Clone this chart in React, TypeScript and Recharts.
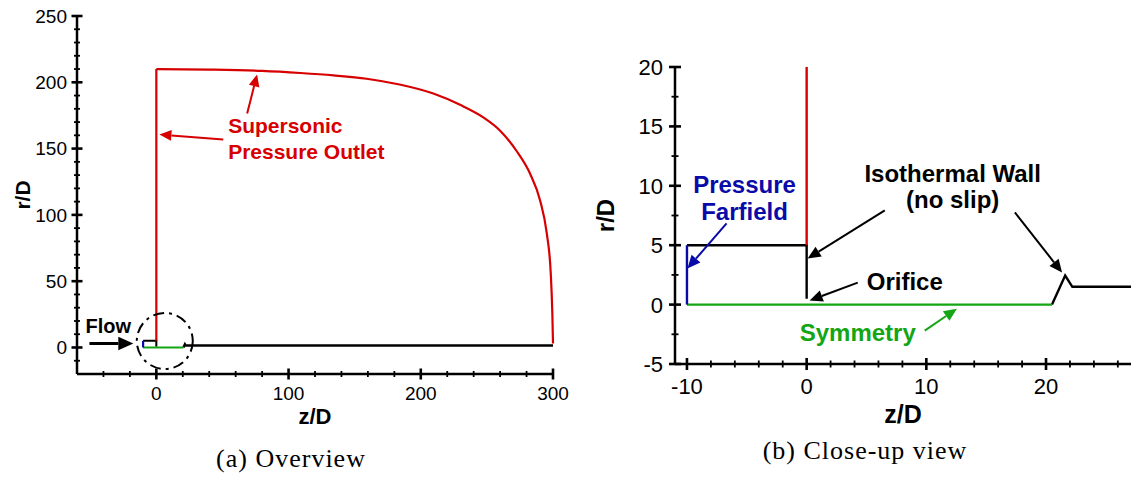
import { LineChart, Line, XAxis, YAxis, ReferenceLine, ReferenceDot } from 'recharts';

const RED = '#d70000';
const BLUE = '#0a0aa8';
const GREEN = '#14a514';
const SANS = '"Liberation Sans", Arial, sans-serif';
const SERIF = '"Liberation Serif", "Times New Roman", serif';

// nozzle geometry (z/D, r/D), shared by both views
const farfield = [{ z: -10, r: 0 }, { z: -10, r: 5 }];
const symmetry = [{ z: -10, r: 0 }, { z: 20.5, r: 0 }];
const inletWall = [{ z: -10, r: 5 }, { z: 0, r: 5 }, { z: 0, r: 0.5 }];
const nozzleWall = [{ z: 20.5, r: 0 }, { z: 21.6, r: 2.45 }, { z: 22.2, r: 1.5 }, { z: 27.1, r: 1.5 }];
const outerWall = [{ z: 20.5, r: 0 }, { z: 21.6, r: 2.45 }, { z: 22.2, r: 1.5 }, { z: 300, r: 1.5 }];

// outlet boundary
const outletFace = [{ z: 0, r: 5 }, { z: 0, r: 210 }];
const outletArc = [
  { z: 0, r: 210 }, { z: 40, r: 209.6 }, { z: 80, r: 208.6 }, { z: 109, r: 207 },
  { z: 134, r: 205.2 }, { z: 159, r: 202.7 }, { z: 184, r: 198.3 }, { z: 209.5, r: 191.5 },
  { z: 229.7, r: 183 }, { z: 247.3, r: 173.5 }, { z: 260, r: 163.5 }, { z: 272.6, r: 148 },
  { z: 282.7, r: 131 }, { z: 290.2, r: 111 }, { z: 295.3, r: 86 }, { z: 298.3, r: 56 },
  { z: 299.5, r: 25.4 }, { z: 300, r: 3 },
];
const outletClose = [{ z: 0, r: 5 }, { z: 0, r: 20 }];

// ticks
const overviewZTicks = [-40, -20, 0, 20, 40, 60, 80, 100, 120, 140, 160, 180, 200, 220, 240, 260, 280, 300];
const overviewRTicks = [-10, 0, 10, 20, 30, 40, 50, 60, 70, 80, 90, 100, 110, 120, 130, 140, 150, 160, 170, 180, 190, 200, 210, 220, 230, 240, 250];
const closeZTicks = [-10, -8, -6, -4, -2, 0, 2, 4, 6, 8, 10, 12, 14, 16, 18, 20, 22, 24, 26];
const closeRTicks = [-5, -2.5, 0, 2.5, 5, 7.5, 10, 12.5, 15, 17.5, 20];

// annotations
const overviewNotes = [
  { text: 'Supersonic', z: 54.3, r: 161.4, color: RED, anchor: 'start' },
  { text: 'Pressure Outlet', z: 54.3, r: 142.5, color: RED, anchor: 'start' },
  { text: 'Flow', z: -53.6, r: 10.6, color: '#000', anchor: 'start' },
];
const overviewArrows = [
  { from: [68.7, 176.5], to: [76.2, 205.9], color: RED },
  { from: [50.6, 156.9], to: [2.3, 160.6], color: RED },
  { from: [-50.6, 3], to: [-17.4, 3], color: '#000' },
];
const closeNotes = [
  { text: 'Pressure', z: -5.19, r: 9.36, color: BLUE, anchor: 'middle' },
  { text: 'Farfield', z: -5.19, r: 7.08, color: BLUE, anchor: 'middle' },
  { text: 'Isothermal Wall', z: 12.2, r: 10.35, color: '#000', anchor: 'middle' },
  { text: '(no slip)', z: 12.2, r: 8.1, color: '#000', anchor: 'middle' },
  { text: 'Orifice', z: 5.02, r: 1.26, color: '#000', anchor: 'start' },
  { text: 'Symmetry', z: 4.27, r: -3.04, color: GREEN, anchor: 'middle' },
];
const closeArrows = [
  { from: [-6.69, 6.83], to: [-9.96, 3.04], color: BLUE },
  { from: [6.53, 7.93], to: [0.08, 3.88], color: '#000' },
  { from: [17.4, 7.76], to: [21.34, 2.7], color: '#000' },
  { from: [4.27, 1.85], to: [0.25, 0.34], color: '#000' },
  { from: [9.87, -2.19], to: [12.55, -0.34], color: GREEN },
];

const isMajor = (v: number, step: number) => Math.abs(v / step - Math.round(v / step)) < 1e-6;

// labels only on the major ticks
const yLabel = (step: number, fs: number, gap: number) => (p: any) => {
  const v = p.payload.value;
  if (!isMajor(v, step)) return <g />;
  return (
    <text x={Number(p.x) - gap} y={Number(p.y)} dy="0.36em" textAnchor="end" fontSize={fs} fontFamily={SANS} fill="#000">
      {v}
    </text>
  );
};

const xLabel = (step: number, fs: number, gap: number) => (p: any) => {
  const v = p.payload.value;
  if (!isMajor(v, step)) return <g />;
  return (
    <text x={Number(p.x)} y={Number(p.y) + gap} textAnchor="middle" fontSize={fs} fontFamily={SANS} fill="#000">
      {v}
    </text>
  );
};

// tick marks crossing the axis line, drawn at the end of a reference line
const yMark = (len: number) => (p: any) => {
  if (p.x1 == null) return <g />;
  const x = Math.min(p.x1, p.x2);
  return <path d={`M${x - len},${p.y1}H${x + len}`} stroke="#000" strokeWidth={len > 4 ? 2.6 : 1.8} fill="none" />;
};

const xMark = (len: number) => (p: any) => {
  if (p.y1 == null) return <g />;
  const y = Math.max(p.y1, p.y2);
  return <path d={`M${p.x1},${y - len}V${y + len}`} stroke="#000" strokeWidth={len > 4 ? 2.6 : 1.8} fill="none" />;
};

const arrowShape = (color: string, w: number, head: number) => (p: any) => {
  const { x1, y1, x2, y2 } = p;
  if (x1 == null || x2 == null) return <g />;
  const dx = x2 - x1;
  const dy = y2 - y1;
  const len = Math.hypot(dx, dy) || 1;
  const ux = dx / len;
  const uy = dy / len;
  const bx = x2 - ux * head;
  const by = y2 - uy * head;
  const px = -uy * head * 0.45;
  const py = ux * head * 0.45;
  return (
    <g>
      <line x1={x1} y1={y1} x2={bx} y2={by} stroke={color} strokeWidth={w} />
      <polygon points={`${x2},${y2} ${bx + px},${by + py} ${bx - px},${by - py}`} fill={color} />
    </g>
  );
};

const noteShape = (n: any, fs: number) => (p: any) => (
  <text x={p.cx} y={p.cy} textAnchor={n.anchor} fontSize={fs} fontWeight="bold" fontFamily={SANS} fill={n.color}>
    {n.text}
  </text>
);

const axisStyle = { stroke: '#000', strokeWidth: 2.5 };

function Overview() {
  return (
    <LineChart width={580} height={477} margin={{ top: 16, right: 27, bottom: 43, left: 0 }}>
      <XAxis
        type="number"
        dataKey="z"
        domain={[-60, 300]}
        ticks={overviewZTicks}
        interval={0}
        tickSize={0}
        tickMargin={0}
        tickLine={false}
        axisLine={axisStyle}
        tick={xLabel(100, 19, 26)}
        height={60}
        label={{
          content: ({ viewBox }: any) => (
            <g>
              <text x={viewBox.x + viewBox.width / 2} y={viewBox.y + 50} textAnchor="middle" fontSize={22} fontWeight="bold" fontFamily={SANS}>
                z/D
              </text>
              <text x={291} y={467} textAnchor="middle" fontSize={26} letterSpacing={1} fontFamily={SERIF}>
                (a) Overview
              </text>
            </g>
          ),
        }}
      />
      <YAxis
        type="number"
        domain={[-20, 250]}
        ticks={overviewRTicks}
        interval={0}
        tickSize={0}
        tickMargin={0}
        tickLine={false}
        axisLine={axisStyle}
        tick={yLabel(50, 19, 10)}
        width={77}
        label={{
          content: ({ viewBox }: any) => {
            const cx = viewBox.x + 22;
            const cy = viewBox.y + viewBox.height / 2;
            return (
              <text x={cx} y={cy} dy="0.36em" transform={`rotate(-90 ${cx} ${cy})`} textAnchor="middle" fontSize={21} fontWeight="bold" fontFamily={SANS}>
                r/D
              </text>
            );
          },
        }}
      />
      {overviewZTicks.map((v) => (
        <ReferenceLine key={'zt' + v} x={v} shape={xMark(isMajor(v, 100) ? 5.5 : 3)} />
      ))}
      {overviewRTicks.map((v) => (
        <ReferenceLine key={'rt' + v} y={v} shape={yMark(isMajor(v, 50) ? 5.5 : 3)} />
      ))}
      <Line data={outerWall} dataKey="r" stroke="#000" strokeWidth={2.4} dot={false} isAnimationActive={false} />
      <Line data={inletWall} dataKey="r" stroke="#000" strokeWidth={2} dot={false} isAnimationActive={false} />
      <Line data={symmetry} dataKey="r" stroke={GREEN} strokeWidth={2.2} dot={false} isAnimationActive={false} />
      <Line data={farfield} dataKey="r" stroke={BLUE} strokeWidth={2.2} dot={false} isAnimationActive={false} />
      <Line data={outletFace} dataKey="r" stroke={RED} strokeWidth={2.2} dot={false} isAnimationActive={false} />
      <Line data={outletArc} dataKey="r" type="monotoneX" stroke={RED} strokeWidth={2.2} dot={false} isAnimationActive={false} />
      <ReferenceDot x={6.4} y={4.9} r={28} fill="none" stroke="#000" strokeWidth={2} strokeDasharray="11 5 3 5" />
      {overviewArrows.map((a, i) => (
        <ReferenceLine
          key={'a' + i}
          segment={[{ x: a.from[0], y: a.from[1] }, { x: a.to[0], y: a.to[1] }]}
          shape={arrowShape(a.color, i === 2 ? 3 : 2, i === 2 ? 15 : 12)}
        />
      ))}
      {overviewNotes.map((n, i) => (
        <ReferenceDot key={'n' + i} x={n.z} y={n.r} r={0} shape={noteShape(n, i === 2 ? 20 : 21)} />
      ))}
    </LineChart>
  );
}

function CloseUp() {
  return (
    <LineChart width={551} height={477} margin={{ top: 67, right: 0, bottom: 43, left: 0 }}>
      <XAxis
        type="number"
        dataKey="z"
        domain={[-11, 27.1]}
        allowDataOverflow
        ticks={closeZTicks}
        interval={0}
        tickSize={0}
        tickMargin={0}
        tickLine={false}
        axisLine={axisStyle}
        tick={xLabel(10, 22, 30)}
        height={70}
        label={{
          content: ({ viewBox }: any) => (
            <g>
              <text x={viewBox.x + viewBox.width / 2} y={viewBox.y + 59} textAnchor="middle" fontSize={25} fontWeight="bold" fontFamily={SANS}>
                z/D
              </text>
              <text x={285} y={459} textAnchor="middle" fontSize={26} letterSpacing={1} fontFamily={SERIF}>
                (b) Close-up view
              </text>
            </g>
          ),
        }}
      />
      <YAxis
        type="number"
        domain={[-5, 20]}
        ticks={closeRTicks}
        interval={0}
        tickSize={0}
        tickMargin={0}
        tickLine={false}
        axisLine={axisStyle}
        tick={yLabel(5, 22, 12)}
        width={95}
        label={{
          content: ({ viewBox }: any) => {
            const cx = viewBox.x + 25;
            const cy = viewBox.y + viewBox.height / 2;
            return (
              <text x={cx} y={cy} dy="0.36em" transform={`rotate(-90 ${cx} ${cy})`} textAnchor="middle" fontSize={24} fontWeight="bold" fontFamily={SANS}>
                r/D
              </text>
            );
          },
        }}
      />
      {closeZTicks.map((v) => (
        <ReferenceLine key={'zt' + v} x={v} shape={xMark(isMajor(v, 10) ? 6 : 3.5)} />
      ))}
      {closeRTicks.map((v) => (
        <ReferenceLine key={'rt' + v} y={v} shape={yMark(isMajor(v, 5) ? 6 : 3.5)} />
      ))}
      <Line data={nozzleWall} dataKey="r" stroke="#000" strokeWidth={2.4} dot={false} isAnimationActive={false} />
      <Line data={inletWall} dataKey="r" stroke="#000" strokeWidth={2.4} dot={false} isAnimationActive={false} />
      <Line data={symmetry} dataKey="r" stroke={GREEN} strokeWidth={2.4} dot={false} isAnimationActive={false} />
      <Line data={farfield} dataKey="r" stroke={BLUE} strokeWidth={2.4} dot={false} isAnimationActive={false} />
      <Line data={outletClose} dataKey="r" stroke={RED} strokeWidth={2.4} dot={false} isAnimationActive={false} />
      {closeArrows.map((a, i) => (
        <ReferenceLine
          key={'a' + i}
          segment={[{ x: a.from[0], y: a.from[1] }, { x: a.to[0], y: a.to[1] }]}
          shape={arrowShape(a.color, 2, 13)}
        />
      ))}
      {closeNotes.map((n, i) => (
        <ReferenceDot key={'n' + i} x={n.z} y={n.r} r={0} shape={noteShape(n, 24)} />
      ))}
    </LineChart>
  );
}

export default function App() {
  return (
    <div style={{ position: 'absolute', left: 0, top: 0, width: 1131, height: 477, background: '#fff', overflow: 'hidden' }}>
      <div style={{ position: 'absolute', left: 0, top: 0 }}>
        <Overview />
      </div>
      <div style={{ position: 'absolute', left: 580, top: 0 }}>
        <CloseUp />
      </div>
    </div>
  );
}
